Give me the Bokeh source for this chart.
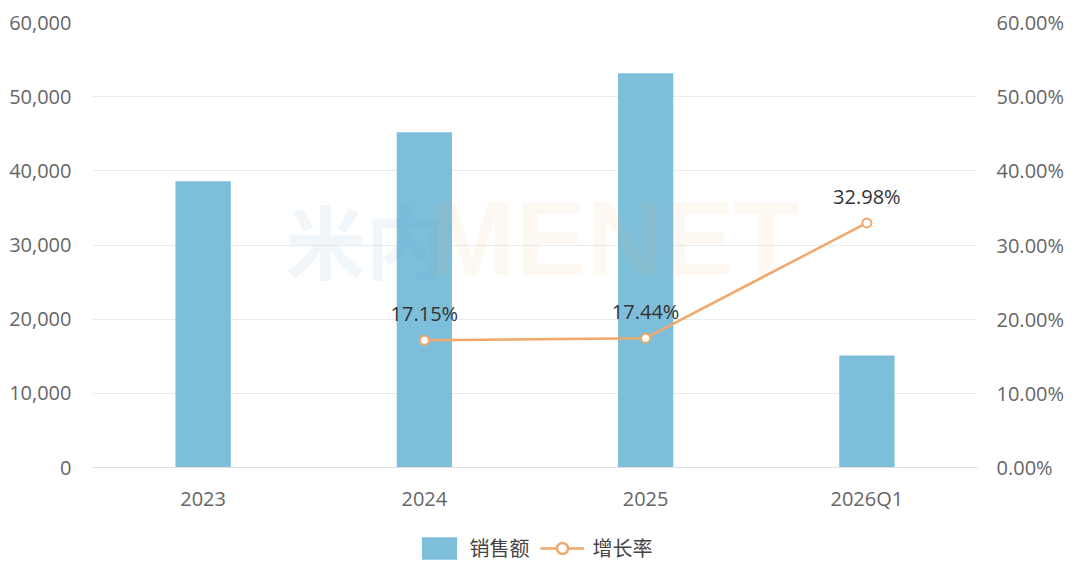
from bokeh.plotting import figure
from bokeh.layouts import column
from bokeh.models import (ColumnDataSource, LinearAxis, Range1d, FactorRange, FixedTicker,
                          NumeralTickFormatter, Legend, LegendItem, Label, LabelSet,
                          CustomJSTickFormatter)
from bokeh.embed import file_html
from bokeh.resources import INLINE
from bokeh.core.properties import value

categories = ["2023", "2024", "2025", "2026Q1"]
sales = [38600, 45200, 53150, 15100]
growth_cats = ["2024", "2025", "2026Q1"]
growth = [17.15, 17.44, 32.98]
growth_labels = ["17.15%", "17.44%", "32.98%"]
left_ticks = [0, 10000, 20000, 30000, 40000, 50000, 60000]
right_ticks = [0, 10, 20, 30, 40, 50, 60]
series_names = ["销售额", "增长率"]

BAR = "#7dbfdb"
LINE = "#f0a96b"
TICK = "#666666"
FONT = "Open Sans"
CJK = "Noto Sans CJK SC"

p = figure(width=1080, height=520, x_range=FactorRange(*categories, range_padding=0),
           y_range=Range1d(0, 60000), output_backend="svg", toolbar_location=None,
           min_border_left=92, min_border_right=103, min_border_top=22, min_border_bottom=53)
p.outline_line_color = None
p.extra_y_ranges = {"pct": Range1d(0, 60)}

src = ColumnDataSource(dict(x=categories, y=sales))
bars = p.vbar(x="x", top="y", width=0.25, source=src, fill_color=BAR, line_color=None)

gsrc = ColumnDataSource(dict(x=growth_cats, y=growth, t=growth_labels))
ln = p.line(x="x", y="y", source=gsrc, y_range_name="pct", line_color=LINE, line_width=2.5)
sc = p.scatter(x="x", y="y", source=gsrc, y_range_name="pct", size=9, fill_color="white",
               line_color=LINE, line_width=2)
labels = LabelSet(x="x", y="y", text="t", source=gsrc, y_range_name="pct", y_offset=13,
                  text_align="center", text_baseline="bottom", text_font_size="20px",
                  text_font=value(FONT), text_color="#333333")
p.add_layout(labels)

# axes
p.yaxis.ticker = FixedTicker(ticks=left_ticks)
p.yaxis.formatter = NumeralTickFormatter(format="0,0")
raxis = LinearAxis(y_range_name="pct", ticker=FixedTicker(ticks=right_ticks),
                   formatter=CustomJSTickFormatter(code="return tick.toFixed(2) + '%';"))
p.add_layout(raxis, "right")
for ax in [p.yaxis[0], raxis, p.xaxis[0]]:
    ax.axis_line_color = None
    ax.major_tick_line_color = None
    ax.minor_tick_line_color = None
    ax.major_label_text_font_size = "20px"
    ax.major_label_text_font = FONT
    ax.major_label_text_color = TICK
p.yaxis[0].major_label_standoff = 15
raxis.major_label_standoff = 13
p.xaxis.major_label_standoff = 11
p.xaxis.axis_line_color = "#e0e0e0"
p.xgrid.grid_line_color = None
p.ygrid.grid_line_color = "#ebebeb"
p.ygrid.ticker = FixedTicker(ticks=left_ticks)

# watermark
p.add_layout(Label(x=193, y=230, x_units="screen", y_units="screen", text="米内",
                   text_font=CJK, text_font_size="80px", text_font_style="bold",
                   text_color="#5a9ab8", text_alpha=0.09, text_baseline="middle"))
p.add_layout(Label(x=335, y=230, x_units="screen", y_units="screen", text="MENET",
                   text_font="Liberation Sans", text_font_size="106px", text_font_style="bold",
                   text_color="#f5a060", text_alpha=0.08, text_baseline="middle"))

# legend figure (its own glyphs sit outside the visible range; only the legend shows)
lg = figure(width=1080, height=55, output_backend="svg", toolbar_location=None,
            x_range=Range1d(0, 1), y_range=Range1d(0, 1),
            x_axis_location=None, y_axis_location=None,
            min_border_left=0, min_border_right=6, min_border_top=0, min_border_bottom=0)
lg.grid.visible = False
lg.outline_line_color = None
dummy = ColumnDataSource(dict(x=[-10, -11], y=[-10, -11]))
lb = lg.vbar(x="x", top="y", width=0.1, source=dummy, fill_color=BAR, line_color=None)
ll = lg.line(x="x", y="y", source=dummy, line_color=LINE, line_width=2.5)
ls = lg.scatter(x="x", y="y", source=dummy, size=14, fill_color="white",
                line_color=LINE, line_width=2.5)
legend = Legend(items=[LegendItem(label=series_names[0], renderers=[lb]),
                       LegendItem(label=series_names[1], renderers=[ll, ls])],
                orientation="horizontal", location="top_center", border_line_color=None,
                background_fill_alpha=0,
                label_text_font=CJK, label_text_font_size="20px", label_text_color="#444444",
                glyph_width=44, glyph_height=28, spacing=10, label_standoff=9,
                margin=13, padding=6)
lg.add_layout(legend, "center")

open("out.html", "w").write(file_html(column(p, lg, spacing=0), INLINE))
